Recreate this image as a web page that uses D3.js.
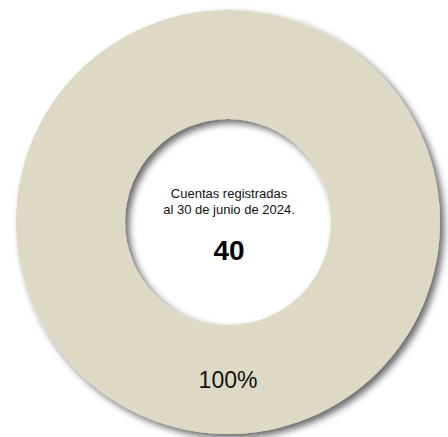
<!DOCTYPE html>
<html>
<head>
<meta charset="utf-8">
<script src="https://cdn.jsdelivr.net/npm/d3@7"></script>
<style>
  html, body { margin: 0; padding: 0; background: #fff; }
  svg { display: block; }
</style>
</head>
<body>
<svg id="chart"></svg>
<script>
// データ
const categories = ['Cuentas registradas']
const values = [40]
const centerLines = ['Cuentas registradas', 'al 30 de junio de 2024.']
const totalLabel = '40'

const width = 448
const height = 437
const cx = 228
const cy = 222
const outerR = 212
const innerR = 103

const colors = ['#DDD9C4']

const svg = d3.select('#chart')
  .attr('width', width)
  .attr('height', height)

// ドロップシャドウ
const defs = svg.append('defs')
const filter = defs.append('filter')
  .attr('id', 'shadow')
  .attr('x', '-20%')
  .attr('y', '-20%')
  .attr('width', '140%')
  .attr('height', '140%')
filter.append('feDropShadow')
  .attr('dx', 4)
  .attr('dy', 4)
  .attr('stdDeviation', 3.5)
  .attr('flood-color', 'rgba(0,0,0,0.6)')

const g = svg.append('g').attr('transform', `translate(${cx},${cy})`)

const pie = d3.pie().sort(null)
const arc = d3.arc().innerRadius(innerR).outerRadius(outerR)
const arcs = pie(values)
const total = d3.sum(values)

g.selectAll('path.slice')
  .data(arcs)
  .enter()
  .append('path')
  .attr('class', 'slice')
  .attr('d', arc)
  .attr('fill', (d, i) => colors[i % colors.length])
  .attr('filter', 'url(#shadow)')

// パーセントラベル
g.selectAll('text.pct')
  .data(arcs)
  .enter()
  .append('text')
  .attr('class', 'pct')
  .attr('transform', d => `translate(${arc.centroid(d)})`)
  .attr('dy', '0.36em')
  .attr('text-anchor', 'middle')
  .attr('font-family', 'Liberation Sans, Arial, sans-serif')
  .attr('font-size', '23px')
  .attr('fill', '#111')
  .text(d => d3.format('.0%')(d.value / total))

// 中央テキスト
const center = g.append('g').attr('font-family', 'Liberation Sans, Arial, sans-serif')
center.selectAll('text.line')
  .data(centerLines)
  .enter()
  .append('text')
  .attr('class', 'line')
  .attr('x', 1)
  .attr('y', (d, i) => -24 + i * 16)
  .attr('text-anchor', 'middle')
  .attr('font-size', '13px')
  .attr('fill', '#111')
  .text(d => d)

center.append('text')
  .attr('x', 1)
  .attr('y', 38)
  .attr('text-anchor', 'middle')
  .attr('font-size', '28px')
  .attr('font-weight', 'bold')
  .attr('fill', '#000')
  .text(totalLabel)
</script>
</body>
</html>
